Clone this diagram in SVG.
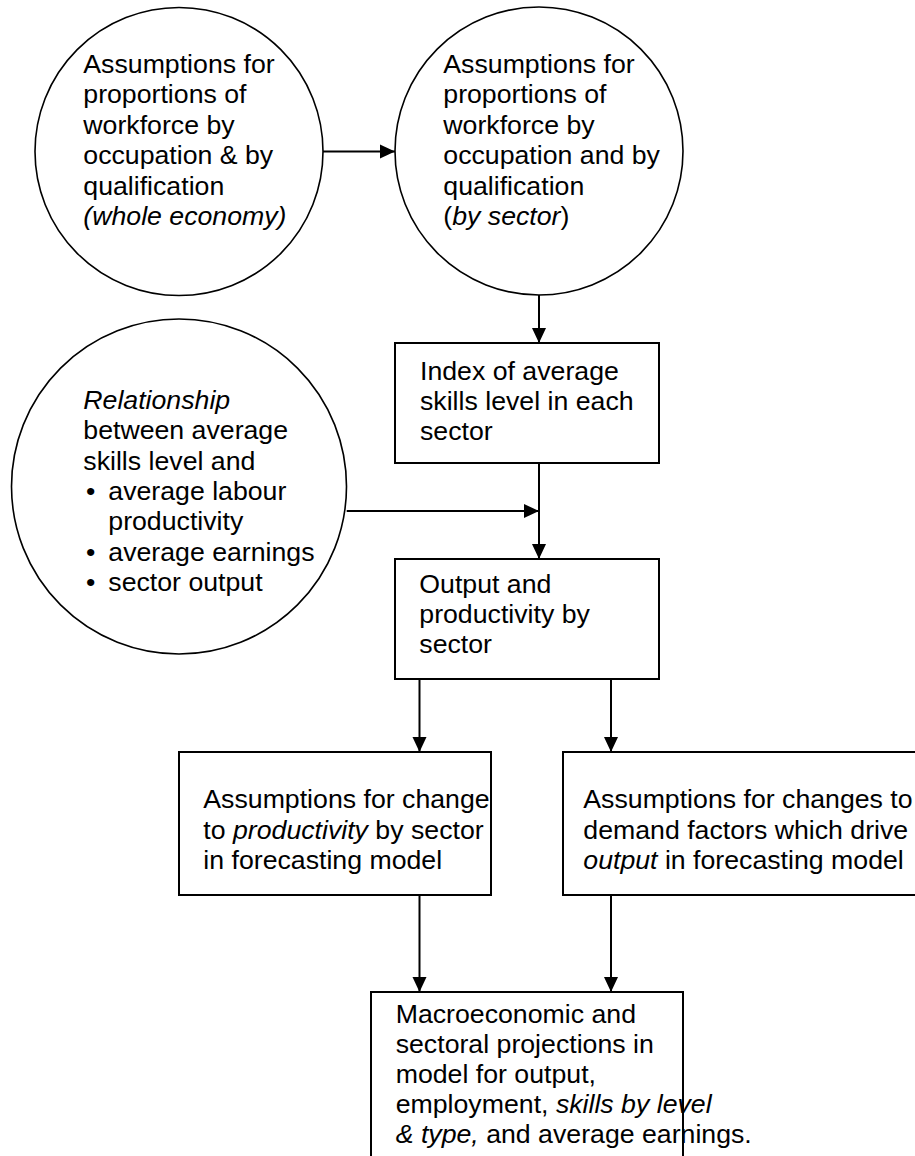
<svg xmlns="http://www.w3.org/2000/svg" width="915" height="1156" viewBox="0 0 915 1156">
<style>
  .shape { fill: #ffffff; stroke: #000000; }
  .circ { stroke-width: 1.6; }
  .box { stroke-width: 2; }
  .conn { stroke: #000000; stroke-width: 2; fill: none; marker-end: url(#arrow); }
  text { font-family: "Liberation Sans", Arial, sans-serif; font-size: 26.7px; fill: #000000; }
  .it { font-style: italic; }
</style>
<defs>
  <marker id="arrow" markerUnits="userSpaceOnUse" markerWidth="16" markerHeight="16" viewBox="0 0 16 16" refX="15" refY="8" orient="auto">
    <path d="M0,1 L15,8 L0,15 Z" fill="#000000"/>
  </marker>
</defs>
<rect width="915" height="1156" fill="#ffffff"/>

<g id="connectors">
  <line class="conn" x1="323" y1="151.5" x2="395" y2="151.5"/>
  <line class="conn" x1="539" y1="295" x2="539" y2="343"/>
  <line class="conn" x1="539" y1="463" x2="539" y2="559"/>
  <line class="conn" x1="346.7" y1="511" x2="539" y2="511"/>
  <line class="conn" x1="419.5" y1="679" x2="419.5" y2="752"/>
  <line class="conn" x1="611" y1="679" x2="611" y2="752"/>
  <line class="conn" x1="419.5" y1="895" x2="419.5" y2="992"/>
  <line class="conn" x1="611" y1="895" x2="611" y2="992"/>
</g>

<g id="node-whole-economy">
  <circle class="shape circ" cx="179" cy="151.5" r="144"/>
  <text x="83.3" y="73">Assumptions for</text>
  <text x="83.3" y="103.4">proportions of</text>
  <text x="83.3" y="133.8">workforce by</text>
  <text x="83.3" y="164.2">occupation &amp; by</text>
  <text x="83.3" y="194.6">qualification</text>
  <text x="83.3" y="225" class="it">(whole economy)</text>
</g>

<g id="node-by-sector">
  <circle class="shape circ" cx="539" cy="151" r="144"/>
  <text x="443.3" y="73">Assumptions for</text>
  <text x="443.3" y="103.4">proportions of</text>
  <text x="443.3" y="133.8">workforce by</text>
  <text x="443.3" y="164.2">occupation and by</text>
  <text x="443.3" y="194.6">qualification</text>
  <text x="443.3" y="225">(<tspan class="it">by sector</tspan>)</text>
</g>

<g id="node-relationship">
  <circle class="shape circ" cx="179" cy="486.5" r="167.5"/>
  <text x="83.3" y="409" class="it">Relationship</text>
  <text x="83.3" y="439.3">between average</text>
  <text x="83.3" y="469.6">skills level and</text>
  <text x="86" y="500">•</text>
  <text x="108.3" y="500">average labour</text>
  <text x="108.3" y="530.3">productivity</text>
  <text x="86" y="560.6">•</text>
  <text x="108.3" y="560.6">average earnings</text>
  <text x="86" y="591">•</text>
  <text x="108.3" y="591">sector output</text>
</g>

<g id="node-index">
  <rect class="shape box" x="395" y="343" width="264" height="120"/>
  <text x="420" y="380">Index of average</text>
  <text x="420" y="410">skills level in each</text>
  <text x="420" y="440">sector</text>
</g>

<g id="node-output">
  <rect class="shape box" x="395" y="559" width="264" height="120"/>
  <text x="419.3" y="593.3">Output and</text>
  <text x="419.3" y="623.3">productivity by</text>
  <text x="419.3" y="653.3">sector</text>
</g>

<g id="node-productivity-assumptions">
  <rect class="shape box" x="179" y="752" width="312" height="143"/>
  <text x="203.3" y="808.3">Assumptions for change</text>
  <text x="203.3" y="838.6">to <tspan class="it">productivity</tspan> by sector</text>
  <text x="203.3" y="868.6">in forecasting model</text>
</g>

<g id="node-demand-assumptions">
  <rect class="shape box" x="563" y="752" width="362" height="143"/>
  <text x="583.3" y="808.3">Assumptions for changes to</text>
  <text x="583.3" y="838.6">demand factors which drive</text>
  <text x="583.3" y="868.6"><tspan class="it">output</tspan> in forecasting model</text>
</g>

<g id="node-projections">
  <rect class="shape box" x="371" y="992" width="312" height="200"/>
  <text x="395.7" y="1023.3">Macroeconomic and</text>
  <text x="395.7" y="1053.3">sectoral projections in</text>
  <text x="395.7" y="1083.3">model for output,</text>
  <text x="395.7" y="1113.3">employment, <tspan class="it">skills by level</tspan></text>
  <text x="395.7" y="1143.3"><tspan class="it">&amp; type,</tspan> and average earnings.</text>
  <line x1="683" y1="992" x2="683" y2="1156" stroke="#000000" stroke-width="2"/>
</g>
</svg>
